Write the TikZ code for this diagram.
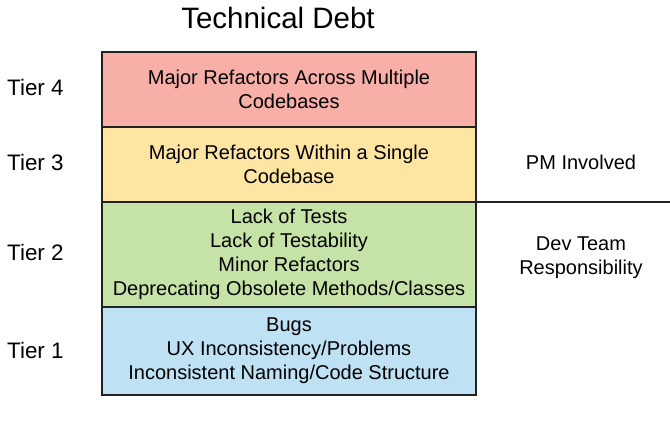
\documentclass[tikz,border=0pt]{standalone}
\usepackage{fontspec}
\setmainfont{Liberation Sans}
\usetikzlibrary{positioning}
\definecolor{tierred}{HTML}{F8AFA8}
\definecolor{tieryellow}{HTML}{FFE5A2}
\definecolor{tiergreen}{HTML}{C5E3A6}
\definecolor{tierblue}{HTML}{BEE1F3}
\definecolor{edgegray}{HTML}{222222}
\tikzset{
  tierbox/.style={draw=edgegray, line width=1.3pt, minimum width=374pt, inner sep=0pt,
    outer sep=0pt, align=center, font=\fontsize{20}{24}\selectfont, text=black},
  tierlabel/.style={font=\fontsize{22.4}{24}\selectfont, anchor=west, inner sep=0pt},
  sidelabel/.style={align=center, font=\fontsize{20}{24}\selectfont}
}
\begin{document}
\begin{tikzpicture}[x=1pt,y=-1pt]
      \useasboundingbox (0,0) rectangle (670,432);
      \node[font=\fontsize{29.5}{32}\selectfont] (title) at (278,18) {Technical Debt};
      % the four tiers, stacked
      \node[tierbox, fill=tierred, minimum height=75pt] (t4) at (289,89.5)
        {Major Refactors Across Multiple\\Codebases};
      \node[tierbox, fill=tieryellow, minimum height=75pt, below=0pt of t4] (t3)
        {Major Refactors Within a Single\\Codebase};
      \node[tierbox, fill=tiergreen, minimum height=105pt, below=0pt of t3] (t2)
        {Lack of Tests\\Lack of Testability\\Minor Refactors\\Deprecating Obsolete Methods/Classes};
      \node[tierbox, fill=tierblue, minimum height=88pt, below=0pt of t2] (t1)
        {Bugs\\UX Inconsistency/Problems\\Inconsistent Naming/Code Structure};
      \node[tierlabel] (l4) at (7,87) {Tier 4};
      \node[tierlabel] (l3) at (7,162) {Tier 3};
      \node[tierlabel] (l2) at (7,252) {Tier 2};
      \node[tierlabel] (l1) at (7,350) {Tier 1};
      \node[sidelabel] (pm) at (581,162) {PM Involved};
      \node[sidelabel] (dev) at (581,258) {Dev Team\\Responsibility};
      \coordinate (edge) at (670,202);
      \draw[edgegray, line width=1.3pt] (t3.south east) -- (edge);
    \end{tikzpicture}
\end{document}
